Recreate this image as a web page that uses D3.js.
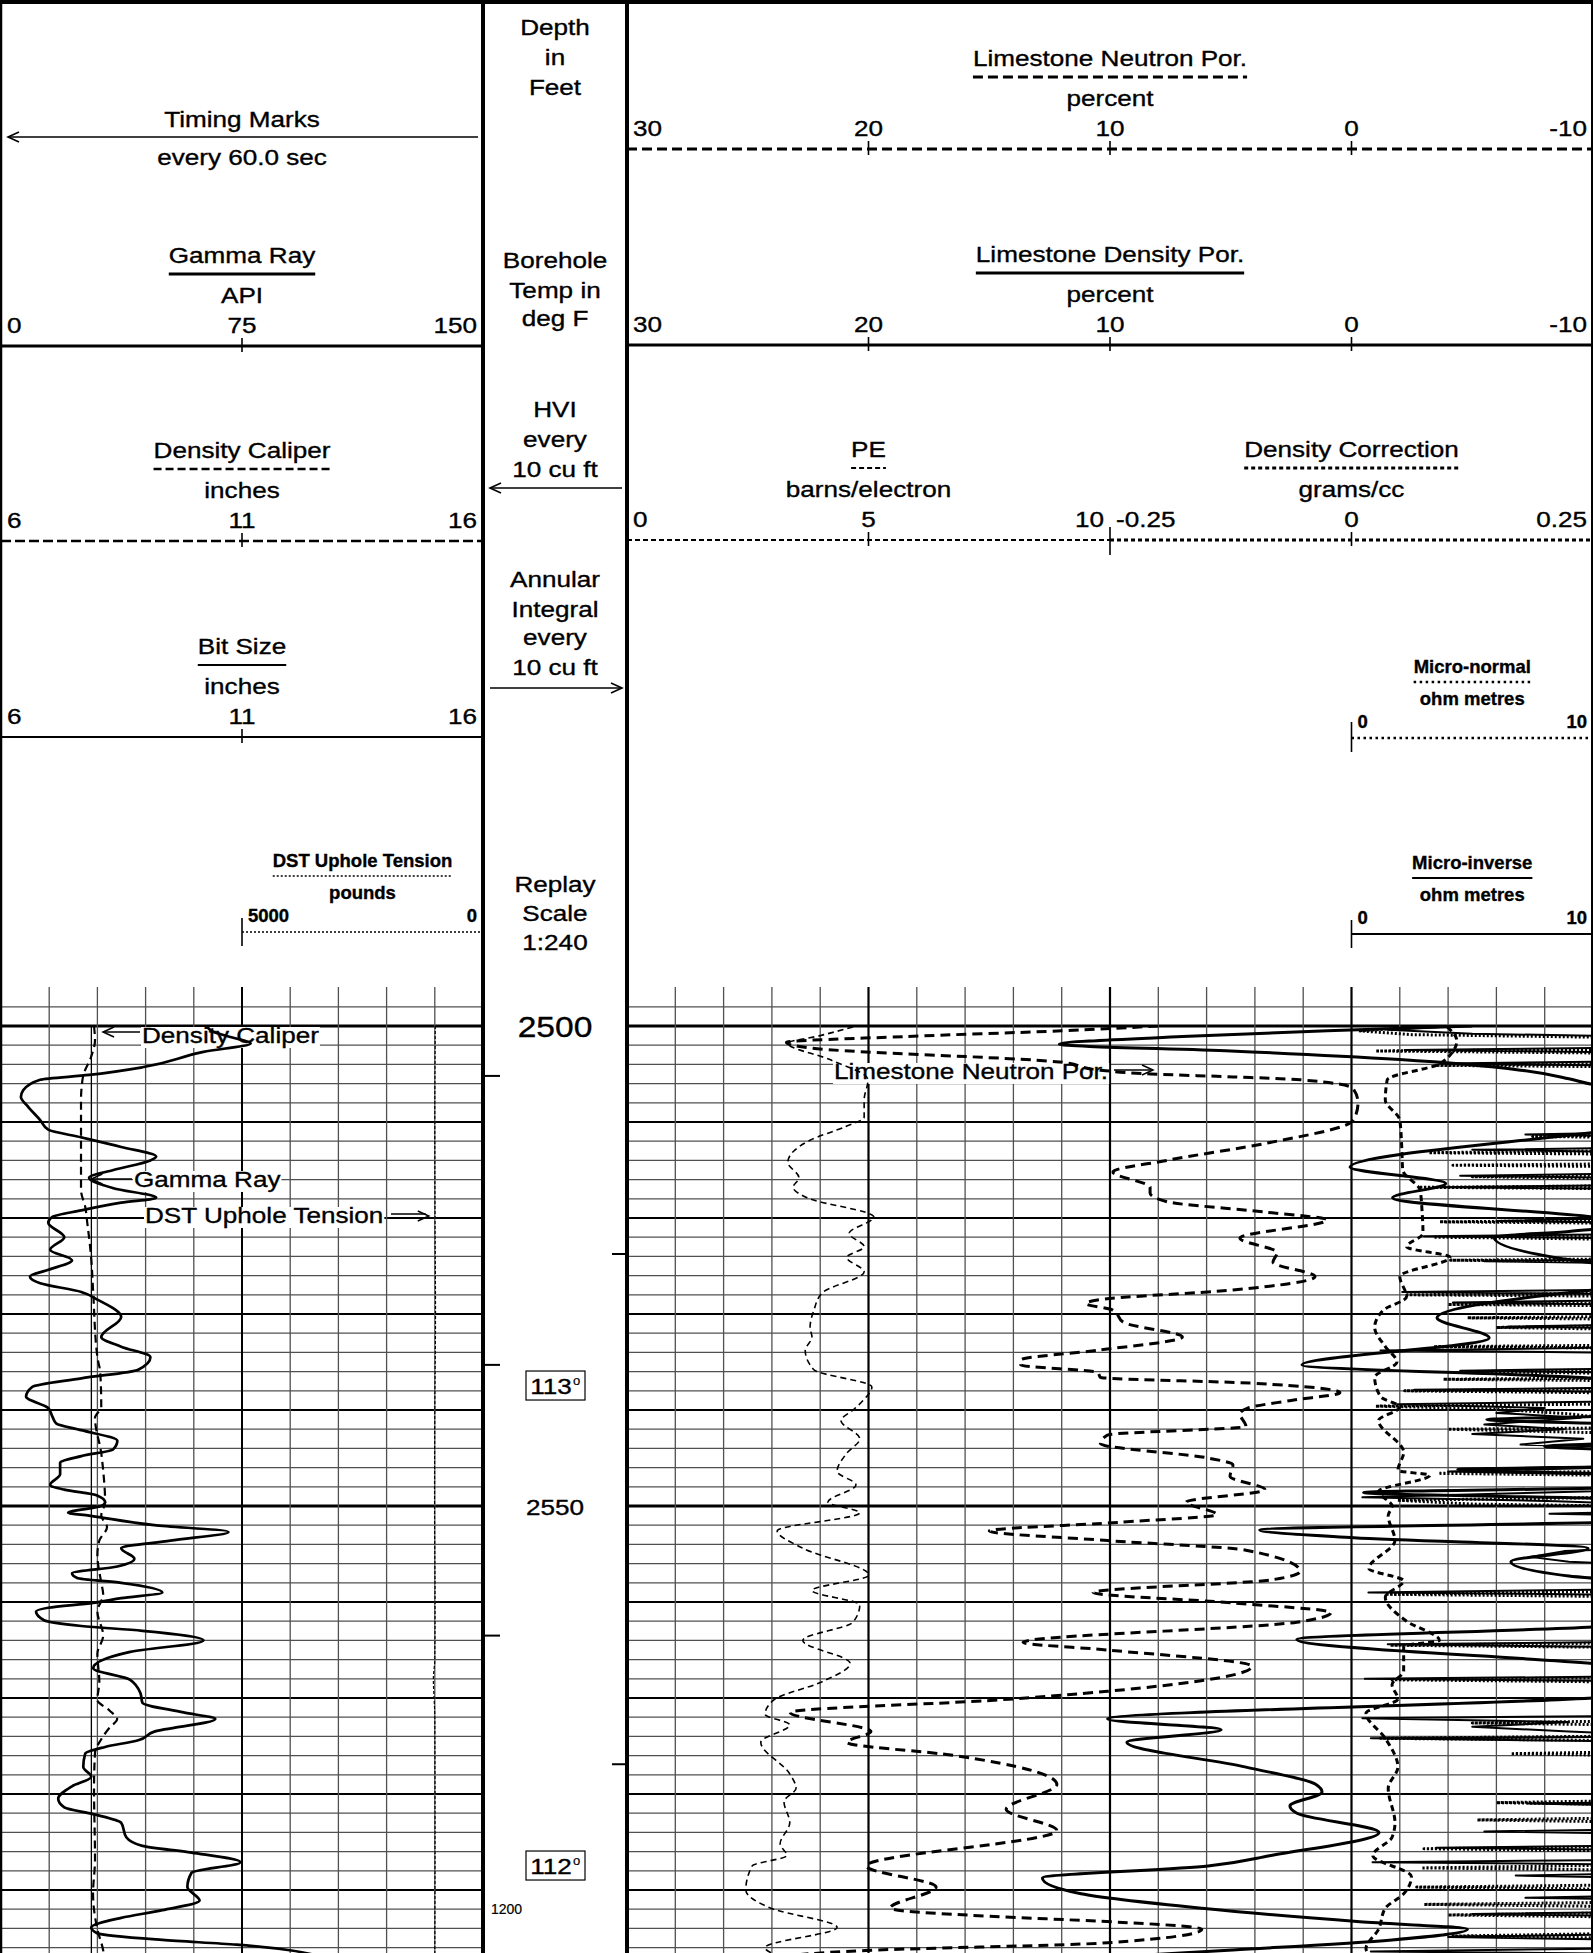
<!DOCTYPE html>
<html>
<head>
<meta charset="utf-8">
<title>Well log 2500–2596 ft</title>
<script src="https://cdn.jsdelivr.net/npm/d3@7"></script>
<style>
  html, body { margin: 0; padding: 0; background: #fff; }
  svg { display: block; }
  text { font-family: "Liberation Sans", Arial, Helvetica, sans-serif; fill: #000; stroke: #000; stroke-width: 0.35px; }
</style>
</head>
<body>
<svg id="log" width="1593" height="1953"></svg>
<script>
// ---------------- scale ranges and header tick labels ----------------
const gammaRange = [0, 150],      gammaTicks = [0, 75, 150];
const caliperRange = [6, 16],     caliperTicks = [6, 11, 16];
const bitRange = [6, 16],         bitTicks = [6, 11, 16];
const dstRange = [5000, 0],       dstTicks = [5000, 0];
const porosityRange = [30, -10],  porosityTicks = [30, 20, 10, 0, -10];
const peRange = [0, 10],          peTicks = [0, 5, 10];
const drhoRange = [-0.25, 0.25],  drhoTicks = [-0.25, 0, 0.25];
const microRange = [0, 10],       microTicks = [0, 10];

const depthLabels = [2500, 2550];
const timingMarks = [2505.2, 2535.3, 2563.5];
const annularMarks = [2523.75, 2576.9];
const temperatures = [[2537.45, "113"], [2587.45, "112"]];
const bitSize = 7.875;

// ---------------- curve data: [depth ft, value] ----------------
const gammaRay = [
  [2500.0, 64], [2500.6, 66], [2501.2, 72], [2501.8, 77.7], [2502.7, 63], [2504.3, 44], [2505.1, 27.4],
  [2505.6, 12.2], [2506.7, 6.9], [2507.4, 6.2], [2508.4, 8.4], [2509.8, 12.2], [2510.8, 14.7], [2511.6, 25],
  [2512.6, 37.4], [2513.6, 48.3], [2514.0, 46.5], [2515.0, 35], [2515.8, 27.4], [2516.9, 35], [2517.9, 48.3],
  [2518.4, 37.4], [2519.2, 25], [2519.9, 15.9], [2520.5, 14.7], [2522.0, 19.7], [2523.3, 15.3], [2524.4, 22.1],
  [2525.4, 14.7], [2526.1, 9], [2526.8, 12.2], [2527.7, 25], [2528.5, 30], [2530.3, 37.4], [2532.4, 31.2],
  [2533.4, 37.4], [2534.5, 46.5], [2535.8, 42.7], [2536.7, 25], [2537.6, 9.7], [2538.6, 7.8], [2539.8, 14.7],
  [2540.6, 15.9], [2541.4, 17.2], [2542.1, 25], [2543.2, 36.2], [2544.1, 34.9], [2544.8, 25], [2545.5, 18.4],
  [2546.7, 18.4], [2547.8, 15.3], [2548.3, 19.7], [2548.9, 29.9], [2549.6, 32.4], [2550.0, 31.2], [2550.7, 20.9],
  [2551.0, 27.4], [2552.0, 47.7], [2552.7, 70.8], [2553.6, 52.7], [2554.4, 37.4], [2555.5, 41.5], [2556.3, 36.2],
  [2557.0, 22.1], [2557.5, 23.7], [2558.0, 37.4], [2559.0, 50.2], [2559.6, 37.4], [2560.1, 28.7], [2560.6, 14.7],
  [2561.0, 10.9], [2561.9, 13.4], [2562.5, 25], [2563.0, 44], [2564.0, 63], [2565.2, 40.2], [2566.9, 28.7],
  [2568.1, 40.2], [2569.5, 43.4], [2570.5, 44], [2571.5, 56.8], [2572.2, 66.7], [2573.5, 47.7], [2574.4, 42.7],
  [2575.1, 32.4], [2575.8, 26.2], [2577.2, 25.6], [2578.2, 28.1], [2579.2, 22.1], [2580.5, 17.8], [2581.4, 19.7],
  [2582.1, 28.7], [2583.0, 37.4], [2584.5, 39], [2585.4, 44], [2586.1, 59.3], [2587.1, 74.5], [2588.2, 59.3],
  [2589.7, 58], [2591.1, 61.8], [2592.1, 50.2], [2592.9, 37.4], [2593.9, 28.1], [2594.5, 29.9], [2595.2, 50.2],
  [2595.7, 73.3], [2596.3, 90.4], [2597.0, 100]
];

const densityCaliper = [
  [2500.0, 7.93], [2501.5, 7.95], [2503.2, 7.87], [2505.3, 7.70], [2507.7, 7.66], [2512.9, 7.66], [2517.1, 7.66],
  [2518.9, 7.75], [2520.5, 7.79], [2524.1, 7.87], [2527.5, 7.91], [2534.5, 8.0], [2536.1, 8.06], [2539.7, 8.08],
  [2540.8, 7.95], [2544.5, 8.08], [2546.3, 8.12], [2549.6, 8.16], [2551.0, 8.08], [2552.2, 8.2], [2553.6, 8.04],
  [2555.1, 8.0], [2558.0, 8.08], [2559.2, 8.12], [2561.0, 8.0], [2563.5, 8.12], [2565.4, 8.0], [2568.3, 8.04],
  [2570.2, 8.0], [2571.3, 8.25], [2572.2, 8.41], [2573.1, 8.25], [2574.3, 8.08], [2575.7, 7.95], [2579.4, 7.93],
  [2586.8, 7.95], [2590.4, 7.91], [2594.1, 8.0], [2596.3, 8.12], [2597.0, 8.14]
];

const dstTension = [
  [2500, 990], [2510, 1000], [2520, 995], [2530, 985], [2540, 1000], [2550, 1005], [2560, 995],
  [2566, 1000], [2568, 1030], [2572, 1000], [2585, 995], [2597, 1000]
];

const peCurve = [
  [2500.1, 4.68], [2501.0, 4.0], [2501.8, 3.33], [2503.5, 4.2], [2505.6, 4.99], [2507.7, 4.91], [2509.5, 4.91],
  [2510.5, 4.51], [2511.9, 3.79], [2512.9, 3.48], [2514.2, 3.33], [2515.8, 3.56], [2516.8, 3.44], [2517.9, 3.73],
  [2519.9, 5.11], [2521.6, 4.6], [2523.0, 4.91], [2524.1, 4.55], [2525.6, 4.91], [2527.8, 4.04], [2529.6, 3.87],
  [2531.4, 3.79], [2532.4, 3.83], [2533.8, 3.69], [2535.8, 3.87], [2537.6, 5.07], [2539.0, 4.89], [2540.0, 4.68],
  [2541.1, 4.43], [2543.0, 4.82], [2544.5, 4.55], [2546.4, 4.35], [2547.8, 4.74], [2549.6, 4.16], [2550.7, 4.82],
  [2552.6, 3.11], [2554.4, 3.64], [2557.2, 5.01], [2558.8, 3.83], [2560.3, 4.82], [2562.1, 4.68], [2564.0, 3.64],
  [2566.4, 4.62], [2568.3, 4.04], [2570.2, 3.04], [2571.7, 2.86], [2572.8, 3.37], [2574.6, 2.77], [2577.9, 3.37],
  [2579.4, 3.5], [2580.8, 3.25], [2583.0, 3.37], [2585.2, 3.17], [2586.4, 3.31], [2587.5, 2.59], [2590.0, 2.46],
  [2591.9, 2.98], [2593.9, 4.35], [2596.0, 2.86], [2597.0, 3.2]
];

const neutronPorosity = [
  [2500.0, 8.0], [2500.5, 12], [2501.1, 18.5], [2501.7, 23.4], [2502.3, 22.4], [2503.75, 12.1], [2504.6, 10.4],
  [2505.0, 8.3], [2505.3, 4.9], [2505.6, 2.13], [2506.5, -0.06], [2508.0, -0.27], [2509.5, -0.14], [2510.1, 0.06],
  [2512.2, 3.5], [2514.0, 7.64], [2515.2, 9.88], [2516.8, 8.34], [2517.4, 8.34], [2518.3, 7.64], [2519.4, 3.5],
  [2520.2, 1.01], [2522.1, 4.62], [2523.6, 3.08], [2524.6, 3.25], [2526.1, 1.51], [2527.5, 4.91], [2528.5, 10.4],
  [2528.9, 11.0], [2529.6, 9.88], [2530.9, 9.42], [2532.4, 7.0], [2533.75, 10.4], [2534.8, 13.7], [2535.3, 13.7],
  [2536.1, 10.5], [2536.6, 10.4], [2537.2, 4.2], [2538.2, 0.48], [2539.0, 2.5], [2539.8, 4.3], [2540.4, 4.62],
  [2541.7, 4.37], [2542.6, 10.1], [2543.5, 10.4], [2545.0, 5.94], [2545.7, 4.91], [2546.9, 5.03], [2548.3, 3.58],
  [2549.6, 6.85], [2550.9, 5.57], [2551.7, 9.63], [2552.6, 15.0], [2553.6, 10.1], [2554.6, 4.37], [2556.8, 2.13],
  [2557.7, 3.33], [2559.0, 10.7], [2560.1, 4.91], [2561.1, 0.85], [2562.1, 2.26], [2564.2, 13.6], [2565.0, 10.1],
  [2566.7, 4.12], [2569.3, 10.1], [2570.2, 14.6], [2571.5, 23.25], [2573.5, 19.9], [2574.6, 20.9], [2576.0, 16.4],
  [2579.0, 12.2], [2581.6, 14.3], [2583.8, 12.2], [2587.5, 20.1], [2589.7, 17.2], [2591.9, 19.1], [2594.1, 6.2],
  [2595.5, 10.1], [2596.3, 20.1], [2597.0, 24]
];

const densityPorosity = [
  [2500.0, -5], [2500.5, 1], [2501.1, 7], [2501.9, 12.1], [2502.6, 5], [2503.5, -2], [2504.6, -7], [2505.5, -9],
  [2506.1, -10], [2506.8, -12], [2510.5, -12], [2511.1, -10], [2514.7, 0.06], [2516.4, -3.9], [2517.9, -1.7],
  [2519.9, -10], [2520.6, -12], [2521.4, -9], [2522.0, -5.9], [2524.7, -10], [2525.3, -12], [2527.0, -12],
  [2527.5, -10], [2530.4, -3.54], [2532.5, -5.7], [2535.3, 2.05], [2536.7, -10], [2537.2, -12], [2540.5, -12],
  [2541.0, -5.6], [2541.6, -12], [2543.3, -12], [2543.8, -8], [2544.3, -12], [2545.8, -12], [2546.2, -4.4],
  [2546.8, -12], [2548.0, -12], [2548.6, -0.5], [2549.4, -12], [2551.5, -12], [2552.5, 3.8], [2553.3, -0.1],
  [2554.4, -9.8], [2555.8, -6.6], [2557.3, -9], [2558.0, -12], [2562.3, -12], [2562.6, -10], [2563.9, 2.26],
  [2566.4, -10], [2566.8, -12], [2569.5, -12], [2572.2, 10.1], [2573.3, 5.4], [2574.6, 9.3], [2577.2, 4.37],
  [2579.0, 1.47], [2579.8, 1.22], [2581.25, 2.55], [2582.0, 2.26], [2584.0, -1.14], [2586.4, 3.33], [2587.5, 5.94],
  [2588.75, 12.8], [2590.4, 11.2], [2591.9, 6.2], [2593.3, -0.35], [2594.1, -4.8], [2595.2, -1.68], [2596.25, 4.91],
  [2597.0, 10.1]
];

const densityCorrection = [
  [2500.1, 0.099], [2501.5, 0.109], [2503.9, 0.092], [2505.6, 0.037], [2507.7, 0.035], [2509.8, 0.05],
  [2512.6, 0.052], [2515.0, 0.053], [2517.1, 0.071], [2519.2, 0.073], [2521.6, 0.074], [2523.0, 0.057],
  [2524.1, 0.102], [2526.1, 0.05], [2528.2, 0.057], [2529.6, 0.033], [2531.4, 0.024], [2533.4, 0.035],
  [2535.0, 0.047], [2536.6, 0.024], [2538.6, 0.03], [2539.7, 0.05], [2541.1, 0.028], [2544.4, 0.054],
  [2546.3, 0.048], [2546.8, 0.081], [2548.5, 0.028], [2550.0, 0.042], [2551.0, 0.038], [2553.6, 0.045],
  [2556.5, 0.018], [2557.8, 0.054], [2559.5, 0.035], [2562.0, 0.057], [2564.0, 0.091], [2564.6, 0.054],
  [2567.2, 0.054], [2568.6, 0.042], [2570.1, 0.048], [2571.6, 0.015], [2574.2, 0.035], [2577.2, 0.048],
  [2579.4, 0.038], [2583.0, 0.045], [2584.5, 0.042], [2586.4, 0.022], [2588.6, 0.062], [2590.4, 0.054],
  [2591.9, 0.035], [2594.1, 0.028], [2596.1, 0.015], [2597.0, 0.02]
];

const microInverse = [
  [2500.0, 4.5], [2500.4, 1.5], [2500.8, 5], [2501.2, 14],
  [2502.2, 14], [2502.5, 2.2], [2502.8, 14],
  [2503.6, 14], [2503.9, 3.65], [2504.2, 14],
  [2511.0, 14], [2511.3, 7.2], [2511.6, 14],
  [2512.6, 14], [2512.9, 5.0], [2513.2, 14],
  [2515.3, 14], [2515.6, 4.5], [2515.9, 14],
  [2516.5, 14], [2516.8, 3.5], [2517.0, 14],
  [2519.9, 14], [2520.3, 6.0], [2520.6, 14],
  [2521.6, 14], [2521.9, 3.0], [2522.2, 14],
  [2524.2, 14], [2524.5, 5.5], [2524.8, 14],
  [2527.4, 14], [2527.7, 2.1], [2528.0, 14],
  [2528.5, 14], [2528.8, 4.2], [2529.1, 14],
  [2531.0, 14], [2531.3, 6.5], [2531.6, 14],
  [2533.4, 14], [2533.8, 1.2], [2534.1, 14],
  [2535.6, 14], [2535.9, 4.5], [2536.2, 14],
  [2537.6, 14], [2537.9, 2.6], [2538.2, 14],
  [2539.0, 14], [2539.4, 1.9], [2539.8, 8], [2540.3, 6], [2540.8, 9.5], [2541.5, 5.5], [2542.0, 8.8],
  [2542.5, 5.0], [2543.0, 9.6], [2543.6, 7], [2544.0, 14],
  [2545.8, 14], [2546.4, 4.0], [2546.9, 14],
  [2548.2, 14], [2548.6, 8], [2549.1, 0.45], [2549.5, 8.5], [2550.0, 14], [2550.5, 14], [2550.8, 8.2], [2551.1, 14],
  [2554.2, 14], [2554.7, 8.8], [2555.3, 7.4], [2555.8, 9], [2556.3, 14],
  [2558.6, 14], [2559.0, 0.7], [2559.3, 14],
  [2564.1, 14], [2564.4, 1.5], [2564.8, 14],
  [2567.7, 14], [2568.0, 0.55], [2568.3, 14],
  [2571.8, 14], [2572.1, 0.45], [2572.5, 9.0], [2573.0, 5], [2573.5, 9], [2574.0, 14], [2574.2, 0.8], [2574.6, 14],
  [2580.8, 14], [2581.0, 7.3], [2581.3, 14],
  [2583.6, 14], [2583.9, 5.5], [2584.2, 14],
  [2585.3, 14], [2585.6, 3.5], [2585.9, 14],
  [2586.8, 14], [2587.1, 0.87], [2587.4, 14],
  [2588.2, 14], [2588.5, 6.8], [2588.8, 14],
  [2590.5, 14], [2590.8, 7.2], [2591.1, 14],
  [2592.2, 14], [2592.5, 5.0], [2592.8, 14],
  [2594.5, 14], [2594.9, 4], [2595.3, 14],
  [2596.0, 14], [2596.4, 0.8], [2596.7, 14]
];

const microNormal = [
  [2500.0, 3.6], [2500.5, 0.3], [2500.9, 2.5], [2501.3, 14],
  [2502.4, 14], [2502.6, 1.0], [2502.9, 14],
  [2503.8, 14], [2504.1, 3.5], [2504.3, 14],
  [2511.3, 14], [2511.5, 7.5], [2511.7, 14],
  [2512.9, 14], [2513.2, 3.2], [2513.4, 14],
  [2514.3, 14], [2514.5, 4.2], [2514.7, 14],
  [2515.4, 14], [2515.7, 5.0], [2516.0, 14],
  [2516.6, 14], [2516.8, 2.8], [2517.0, 14],
  [2520.2, 14], [2520.4, 3.65], [2520.6, 14],
  [2521.7, 14], [2522.0, 3.4], [2522.3, 14],
  [2524.2, 14], [2524.4, 4.1], [2524.6, 14],
  [2527.8, 14], [2528.0, 2.3], [2528.2, 14],
  [2528.8, 14], [2529.0, 4.0], [2529.2, 14],
  [2530.2, 14], [2530.4, 4.8], [2530.6, 14],
  [2531.1, 14], [2531.4, 6.0], [2531.7, 14],
  [2533.2, 14], [2533.4, 3.4], [2533.6, 14],
  [2535.7, 14], [2536.0, 5.0], [2536.3, 14],
  [2536.6, 14], [2536.8, 3.8], [2537.0, 14],
  [2537.7, 14], [2538.0, 2.2], [2538.3, 14],
  [2539.3, 14], [2539.6, 1.0], [2539.9, 6], [2540.4, 9], [2541.8, 14], [2542.0, 4.0], [2542.3, 9], [2542.6, 14],
  [2546.3, 14], [2546.6, 3.6], [2546.9, 14],
  [2549.0, 14], [2549.4, 1.9], [2549.8, 5], [2550.1, 14],
  [2558.8, 14], [2559.2, 1.4], [2559.5, 14],
  [2564.2, 14], [2564.5, 1.6], [2564.8, 14],
  [2567.8, 14], [2568.1, 1.6], [2568.4, 14],
  [2572.3, 14], [2572.6, 5], [2572.9, 14],
  [2573.9, 14], [2574.2, 1.2], [2574.5, 14],
  [2575.5, 14], [2575.8, 6.6], [2576.1, 14],
  [2580.6, 14], [2580.9, 6.0], [2581.2, 14],
  [2582.4, 14], [2582.7, 5.2], [2583.0, 14],
  [2585.4, 14], [2585.7, 3.0], [2586.0, 14],
  [2587.3, 14], [2587.7, 2.9], [2588.0, 14],
  [2589.4, 14], [2589.7, 2.7], [2590.0, 14],
  [2591.2, 14], [2591.5, 3.0], [2591.8, 14],
  [2592.3, 14], [2592.6, 4.0], [2592.9, 14],
  [2594.4, 14], [2594.8, 4.2], [2595.1, 14]
];

// ---------------- layout ----------------
const W = 1593, H = 1953;
const T1 = { x0: 1, x1: 483 };      // track 1
const DT = { x0: 483, x1: 627 };    // depth track
const T2 = { x0: 627, x1: 1593 };   // tracks 2-3
const GRID_TOP = 987;
const DCX = (DT.x0 + DT.x1) / 2;

const svg = d3.select("#log");
const y = d3.scaleLinear().domain([2500, 2550]).range([1026, 1506]);
const bottomDepth = y.invert(H);

const xGamma = d3.scaleLinear().domain(gammaRange).range([T1.x0, T1.x1]);
const xCal = d3.scaleLinear().domain(caliperRange).range([T1.x0, T1.x1]);
const xBit = d3.scaleLinear().domain(bitRange).range([T1.x0, T1.x1]);
const xDst = d3.scaleLinear().domain(dstRange).range([(T1.x0 + T1.x1) / 2, T1.x1]);
const xPor = d3.scaleLinear().domain(porosityRange).range([T2.x0, T2.x1]);
const mid2 = (T2.x0 + T2.x1) / 2;
const xPe = d3.scaleLinear().domain(peRange).range([T2.x0, mid2]);
const xDrho = d3.scaleLinear().domain(drhoRange).range([mid2, T2.x1]);
const xMicro = d3.scaleLinear().domain(microRange).range([xPor(0), T2.x1]);

// ---------------- helpers ----------------
function stretchText(g, x, yb, s, o = {}) {
  const size = o.size ?? 22.5, sx = o.sx ?? 1.16;
  return g.append("text")
    .attr("transform", `translate(${x},${yb}) scale(${sx},1)`)
    .attr("text-anchor", o.anchor ?? "middle")
    .style("font-size", size + "px")
    .style("font-weight", o.weight ?? "normal")
    .text(s);
}
function hline(g, x1, x2, yy, w, dash, color = "#000") {
  return g.append("line").attr("x1", x1).attr("x2", x2).attr("y1", yy).attr("y2", yy)
    .attr("stroke", color).attr("stroke-width", w).attr("stroke-dasharray", dash || null);
}
function vline(g, xx, y1, y2, w, color = "#000", dash) {
  return g.append("line").attr("x1", xx).attr("x2", xx).attr("y1", y1).attr("y2", y2)
    .attr("stroke", color).attr("stroke-width", w).attr("stroke-dasharray", dash || null);
}
function arrow(g, x1, x2, yy, w = 1.6, double = false) {
  const dir = Math.sign(x2 - x1);
  if (double) {
    hline(g, x1, x2 - dir * 3, yy - 2, 1.4);
    hline(g, x1, x2 - dir * 3, yy + 2, 1.4);
  } else {
    hline(g, x1, x2, yy, w);
  }
  g.append("path")
    .attr("d", `M${x2 - dir * 11},${yy - 5} L${x2},${yy} L${x2 - dir * 11},${yy + 5}`)
    .attr("fill", "none").attr("stroke", "#000").attr("stroke-width", w);
}

const lineStyles = {
  solidThick: { w: 3, dash: null },
  solidThin: { w: 1.8, dash: null },
  dashedThick: { w: 3, dash: "10,5" },
  dashedPe: { w: 1.8, dash: "5,3" },
  dashedFine: { w: 3, dash: "4,3" },
  dotted: { w: 2.6, dash: "2.5,3.5" },
  dottedFine: { w: 1.5, dash: "2,2" }
};

const header = svg.append("g");

// one scale block in the heading: title, underline in curve style, unit, tick labels and scale line
function scaleBlock(c) {
  const small = !!c.small;
  const fs = small ? 18.5 : 22.5, sx = small ? 1.0 : 1.16, wt = small ? "bold" : "normal";
  const off = small ? [-65, -56, -33, -10] : [-83, -72, -43, -13];
  const cx = c.cx ?? (c.x0 + c.x1) / 2;
  const t = stretchText(header, cx, c.L + off[0], c.title, { size: fs, sx, weight: wt });
  const tw = t.node().getComputedTextLength() * sx;
  hline(header, cx - tw / 2, cx + tw / 2, c.L + off[1], c.ul.w, c.ul.dash);
  stretchText(header, cx, c.L + off[2], c.unit, { size: fs, sx, weight: wt });
  c.labels.forEach((v, i) => {
    let anchor = "middle", xx = c.xs(v);
    if (i === 0) { anchor = "start"; xx += 6; }
    else if (i === c.labels.length - 1) { anchor = "end"; xx -= 6; }
    stretchText(header, xx, c.L + off[3], String(v), { size: fs, sx, weight: wt, anchor });
  });
  if (c.line) hline(header, c.x0, c.x1, c.L, c.line.w, c.line.dash);
  (c.ticks || []).forEach(tk => vline(header, c.xs(tk.v), c.L - (tk.up ?? 8), c.L + (tk.down ?? 6), 1.6));
}

// ---------------- grid ----------------
const grid = svg.append("g");
const depthLines = d3.range(2498, Math.floor(bottomDepth) + 1, 2);
[T1, T2].forEach(t => {
  depthLines.forEach(d => {
    const yy = y(d);
    const major = d % 50 === 0, ten = d % 10 === 0;
    hline(grid, t.x0, t.x1, yy, major ? 3 : ten ? 2.2 : 1.3, null, ten ? "#000" : "#505050");
  });
});
d3.range(1, 10).forEach(i => {
  const xx = xGamma(i * 15);
  vline(grid, xx, GRID_TOP, H, i === 5 ? 2 : 1.3, i === 5 ? "#000" : "#505050");
});
d3.range(1, 20).forEach(i => {
  const xx = xPor(30 - i * 2);
  vline(grid, xx, GRID_TOP, H, i % 5 === 0 ? 2.2 : 1.3, i % 5 === 0 ? "#000" : "#505050");
});

// ---------------- heading: track 1 ----------------
stretchText(header, (T1.x0 + T1.x1) / 2, 127, "Timing Marks");
arrow(header, T1.x1 - 5, T1.x0 + 7, 137, 1.6);
stretchText(header, (T1.x0 + T1.x1) / 2, 165, "every 60.0 sec");

scaleBlock({ x0: T1.x0, x1: T1.x1, L: 346, title: "Gamma Ray", unit: "API", labels: gammaTicks, xs: xGamma,
  ul: lineStyles.solidThick, line: lineStyles.solidThick, ticks: [{ v: 75 }] });
scaleBlock({ x0: T1.x0, x1: T1.x1, L: 541, title: "Density Caliper", unit: "inches", labels: caliperTicks, xs: xCal,
  ul: { w: 2.6, dash: "8,4" }, line: { w: 2.6, dash: "10,4" }, ticks: [{ v: 11 }] });
scaleBlock({ x0: T1.x0, x1: T1.x1, L: 737, title: "Bit Size", unit: "inches", labels: bitTicks, xs: xBit,
  ul: lineStyles.solidThin, line: lineStyles.solidThin, ticks: [{ v: 11 }] });
scaleBlock({ x0: xDst(5000), x1: T1.x1, L: 932, title: "DST Uphole Tension", unit: "pounds", labels: dstTicks, xs: xDst,
  small: true, ul: lineStyles.dottedFine, line: lineStyles.dottedFine, ticks: [{ v: 5000, up: 14, down: 14 }] });

// ---------------- heading: depth track ----------------
const dtLines = [
  [35, "Depth"], [65, "in"], [95, "Feet"],
  [268, "Borehole"], [298, "Temp in"], [326, "deg F"],
  [417, "HVI"], [447, "every"], [477, "10 cu ft"],
  [587, "Annular"], [617, "Integral"], [645, "every"], [675, "10 cu ft"],
  [892, "Replay"], [921, "Scale"], [950, "1:240"]
];
dtLines.forEach(([yb, s]) => stretchText(header, DCX, yb, s));
arrow(header, DT.x1 - 5, DT.x0 + 7, 488, 1.6);
arrow(header, DT.x0 + 7, DT.x1 - 5, 688, 1.6);

// ---------------- heading: tracks 2-3 ----------------
scaleBlock({ x0: T2.x0, x1: T2.x1, L: 149, title: "Limestone Neutron Por.", unit: "percent", labels: porosityTicks, xs: xPor,
  ul: lineStyles.dashedThick, line: lineStyles.dashedThick, ticks: [{ v: 20 }, { v: 10 }, { v: 0 }] });
scaleBlock({ x0: T2.x0, x1: T2.x1, L: 345, title: "Limestone Density Por.", unit: "percent", labels: porosityTicks, xs: xPor,
  ul: lineStyles.solidThick, line: lineStyles.solidThick, ticks: [{ v: 20 }, { v: 10 }, { v: 0 }] });
scaleBlock({ x0: T2.x0, x1: mid2, L: 540, title: "PE", unit: "barns/electron", labels: peTicks, xs: xPe,
  ul: lineStyles.dashedPe, line: lineStyles.dashedPe, ticks: [{ v: 5 }] });
scaleBlock({ x0: mid2, x1: T2.x1, L: 540, title: "Density Correction", unit: "grams/cc", labels: drhoTicks, xs: xDrho,
  ul: lineStyles.dashedFine, line: lineStyles.dashedFine, ticks: [{ v: -0.25, up: 13, down: 15 }, { v: 0 }] });
scaleBlock({ x0: xMicro(0), x1: T2.x1, L: 738, title: "Micro-normal", unit: "ohm metres", labels: microTicks, xs: xMicro,
  small: true, ul: lineStyles.dotted, line: lineStyles.dotted, ticks: [{ v: 0, up: 16, down: 14 }] });
scaleBlock({ x0: xMicro(0), x1: T2.x1, L: 934, title: "Micro-inverse", unit: "ohm metres", labels: microTicks, xs: xMicro,
  small: true, ul: { w: 2.2, dash: null }, line: { w: 2.2, dash: null }, ticks: [{ v: 0, up: 14, down: 14 }] });

// ---------------- depth track contents ----------------
const dgrp = svg.append("g");
depthLabels.forEach((d, i) => {
  const big = i === 0;
  stretchText(dgrp, DCX, y(d) + (big ? 11 : 8.5), String(d), { size: big ? 30 : 22.5, sx: big ? 1.12 : 1.16 });
});
timingMarks.forEach(d => hline(dgrp, DT.x0 + 2, DT.x0 + 17, y(d), 2));
annularMarks.forEach(d => hline(dgrp, DT.x1 - 15, DT.x1, y(d), 2));
temperatures.forEach(([d, s]) => {
  const yc = y(d);
  dgrp.append("rect").attr("x", DCX - 29).attr("y", yc - 14.5).attr("width", 59).attr("height", 29)
    .attr("fill", "#fff").attr("stroke", "#000").attr("stroke-width", 1.2);
  stretchText(dgrp, DCX - 4, yc + 8.5, s);
  dgrp.append("text").attr("x", DCX + 18).attr("y", yc - 1).style("font-size", "13px").style("stroke-width", "0.2px").text("o");
});
dgrp.append("text").attr("x", DT.x0 + 8).attr("y", 1914).style("font-size", "14px").style("stroke-width", "0.2px").text("1200");

// ---------------- curve labels on the log ----------------
const labels = svg.append("g");
function logLabel(x, yb, s) {
  const t = stretchText(labels, x, yb, s, { anchor: "start" });
  const w = t.node().getComputedTextLength() * 1.16;
  labels.insert("rect", "text").attr("x", x - 1).attr("y", yb - 16).attr("width", w + 2).attr("height", 21).attr("fill", "#fff");
}
logLabel(142, 1043, "Density Caliper");
arrow(labels, 140, xCal(7.93) + 9, 1032, 1.5);
logLabel(134, 1187, "Gamma Ray");
arrow(labels, 132, xGamma(25) + 10, 1179, 1.5);
logLabel(145, 1223, "DST Uphole Tension");
arrow(labels, 391, xDst(1000) - 6, 1216, 1.5, true);
logLabel(834, 1079, "Limestone Neutron Por.");
arrow(labels, 1114, 1153, 1070, 1.5);

// ---------------- curves ----------------
const defs = svg.append("defs");
defs.append("clipPath").attr("id", "clipT1").append("rect")
  .attr("x", T1.x0).attr("y", y(2500) - 1).attr("width", T1.x1 - T1.x0).attr("height", H);
defs.append("clipPath").attr("id", "clipT2").append("rect")
  .attr("x", T2.x0).attr("y", y(2500) - 1).attr("width", T2.x1 - T2.x0).attr("height", H);

function curve(clip, data, xs, style, interp = d3.curveMonotoneY) {
  const gen = d3.line().x(d => xs(d[1])).y(d => y(d[0])).curve(interp);
  svg.append("path").datum(data).attr("clip-path", `url(#${clip})`).attr("d", gen)
    .attr("fill", "none").attr("stroke", "#000").attr("stroke-width", style.w)
    .attr("stroke-dasharray", style.dash || null).attr("stroke-linejoin", "round");
}

// track 1
curve("clipT1", [[2500, bitSize], [bottomDepth + 1, bitSize]], xBit, { w: 1.3 });
curve("clipT1", dstTension, xDst, { w: 1.2, dash: "3,2" });
curve("clipT1", densityCaliper, xCal, { w: 2.2, dash: "8,5" });
curve("clipT1", gammaRay, xGamma, { w: 2.7 });

// tracks 2-3
curve("clipT2", peCurve, xPe, { w: 1.6, dash: "6,4" });
curve("clipT2", densityCorrection, xDrho, { w: 3, dash: "6,4" });
curve("clipT2", microNormal, xMicro, { w: 3, dash: "2,2" }, d3.curveLinear);
curve("clipT2", microInverse, xMicro, { w: 2 }, d3.curveLinear);
curve("clipT2", neutronPorosity, xPor, { w: 3, dash: "10,6" });
curve("clipT2", densityPorosity, xPor, { w: 3 });

// ---------------- frame ----------------
const frame = svg.append("g");
hline(frame, 0, W, 2, 4);
vline(frame, 1, 0, H, 2.5);
vline(frame, DT.x0, 0, H, 4);
vline(frame, DT.x1, 0, H, 4);
vline(frame, W - 1, 0, H, 2);
</script>
</body>
</html>
